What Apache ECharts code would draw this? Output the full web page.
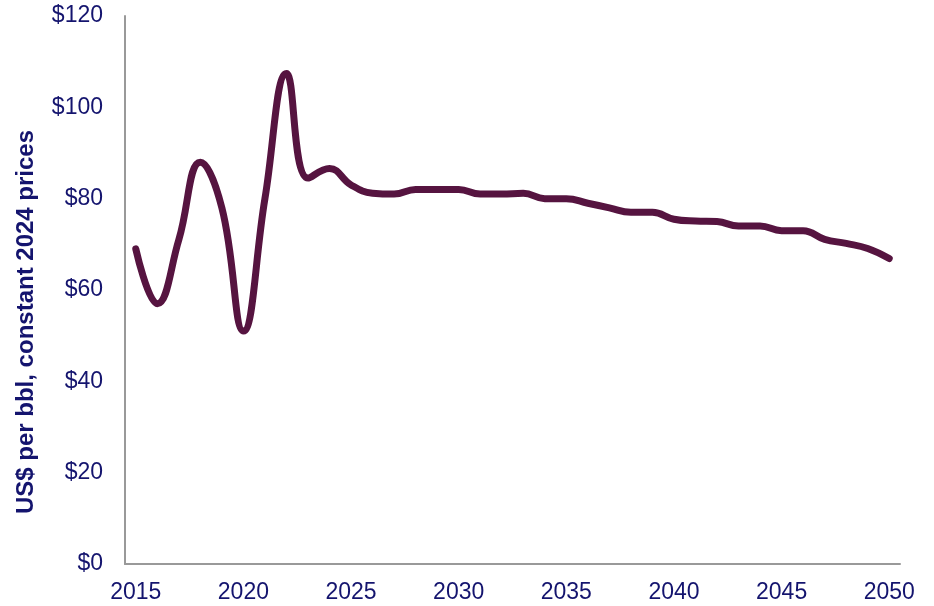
<!DOCTYPE html>
<html><head><meta charset="utf-8">
<script src="https://cdn.jsdelivr.net/npm/echarts@6/dist/echarts.min.js"></script>
<style>html,body{margin:0;padding:0;background:#fff}#c{width:934px;height:606px}</style>
</head><body><div id="c"></div>
<script>
const years = ['2015','2016','2017','2018','2019','2020','2021','2022','2023','2024','2025','2026','2027','2028','2029','2030','2031','2032','2033','2034','2035','2036','2037','2038','2039','2040','2041','2042','2043','2044','2045','2046','2047','2048','2049','2050'];
const prices = [69,57,71,88,78,51,80,107.4,84.5,86.6,83,81.2,81,82,82,82,81,81,81.2,80,80,79,78,77,77,75.5,75.1,75,74,74,73,73,71.1,70.2,69.1,66.9];
const yTicks = [0,20,40,60,80,100,120];
const yTitle = 'US$ per bbl, constant 2024 prices';

const chart = echarts.init(document.getElementById('c'), null, {renderer:'canvas'});
const navy = '#14146e';
const ff = 'Liberation Sans, Arial';
chart.setOption({
  animation:false,
  grid:{left:125,right:34,top:16,bottom:42,containLabel:false},
  graphic:[{type:'text',x:26,y:322,rotation:Math.PI/2,
    style:{text:yTitle,fill:navy,font:'bold 24px '+ff,textAlign:'center',textVerticalAlign:'middle'}}],
  xAxis:{type:'category',data:years,boundaryGap:true,
    axisLine:{lineStyle:{color:'#999',width:2}},
    axisTick:{show:false},
    axisLabel:{interval:4,color:navy,fontFamily:ff,fontSize:23,margin:17}},
  yAxis:{type:'value',min:yTicks[0],max:yTicks[yTicks.length-1],interval:20,
    axisLine:{show:true,lineStyle:{color:'#999',width:2}},
    axisTick:{show:false},splitLine:{show:false},
    axisLabel:{color:navy,fontFamily:ff,fontSize:23,margin:22,formatter:v=>'$'+v}},
  series:[{type:'line',data:prices,smooth:0.45,symbol:'none',
    lineStyle:{color:'#561440',width:7,cap:'round'}}]
});
</script></body></html>
